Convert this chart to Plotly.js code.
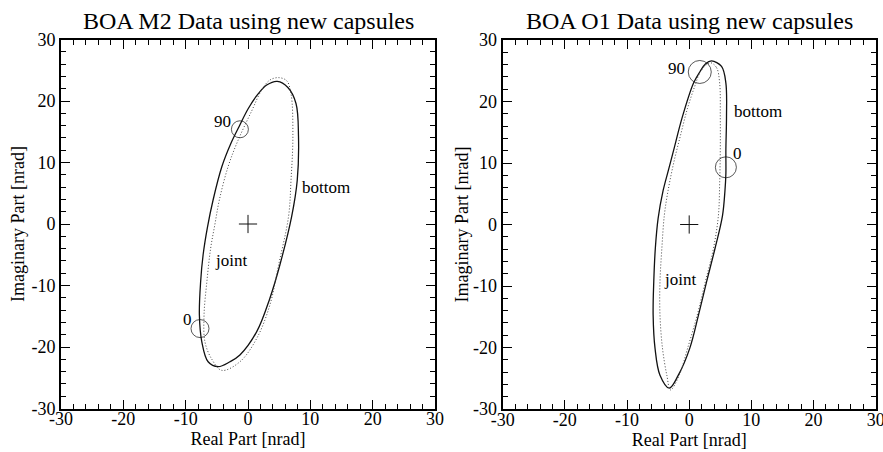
<!DOCTYPE html>
<html>
<head>
<meta charset="utf-8">
<script src="https://cdn.plot.ly/plotly-3.0.1.min.js"></script>
<style>html,body{margin:0;padding:0;background:#fff;}#chart{width:883px;height:452px;}</style>
</head>
<body>
<div id="chart"></div>
<script>
// ---- Data ----
const panelTitles = ["BOA M2 Data using new capsules", "BOA O1 Data using new capsules"];
const xAxisTitle = "Real Part [nrad]";
const yAxisTitle = "Imaginary Part [nrad]";
const tickValues = [-30, -20, -10, 0, 10, 20, 30];
const tickLabels = ["-30", "-20", "-10", "0", "10", "20", "30"];

// BOA M2 – "bottom" (solid) and "joint" (dotted)
const m2BottomRe = [4.7, 6.4, 7.7, 8.1, 7.9, 7.0, 5.1, 3.5, 1.4, -1.3, -2.9, -4.8, -6.4, -7.4, -7.8, -7.6, -7.2, -6.5, -5.6, -4.2, -2.7, -1.4, 0.0, 1.5, 3.0, 4.7];
const m2BottomIm = [23.2, 22.2, 19.6, 14.3, 7.1, 1.2, -6.7, -12.1, -17.5, -21.3, -22.4, -23.2, -22.4, -19.2, -14.8, -9.4, -5.0, -0.5, 3.9, 9.3, 13.2, 15.9, 18.7, 21.0, 22.6, 23.2];
const m2JointRe = [4.9, 6.2, 6.9, 7.2, 6.9, 6.5, 4.9, 3.5, 1.4, -1.3, -4.2, -5.8, -6.9, -7.05, -6.6, -6.0, -5.3, -4.6, -3.2, -1.6, 0.6, 2.2, 3.5, 4.9];
const m2JointIm = [23.8, 23.3, 21.2, 14.2, 7.1, 1.2, -6.7, -13.2, -18.6, -22.4, -23.8, -22.0, -19.2, -14.8, -9.4, -4.0, 0.0, 3.9, 9.3, 13.6, 18.4, 21.8, 23.4, 23.8];
const m2PhaseRe = [-7.7, -1.3];
const m2PhaseIm = [-17.0, 15.4];
const m2PhaseSize = [18, 17];

// BOA O1 – "bottom" (solid) and "joint" (dotted)
const o1BottomRe = [3.6, 5.2, 5.9, 6.0, 5.9, 5.9, 5.75, 5.35, 4.15, 2.8, 1.5, 0.1, -1.75, -3.2, -4.7, -5.5, -5.8, -5.7, -5.45, -5.0, -4.2, -3.3, -2.5, -1.1, 0.7, 1.7, 2.6, 3.6];
const o1BottomIm = [26.6, 25.7, 23.0, 17.5, 12.1, 8.3, 5.5, 1.4, -3.9, -9.3, -14.7, -20.1, -24.5, -26.6, -24.5, -20.1, -14.7, -9.3, -3.9, 1.0, 5.5, 9.0, 12.1, 17.5, 23.0, 24.8, 26.1, 26.6];
const o1JointRe = [3.4, 4.4, 4.9, 5.0, 5.0, 4.9, 4.7, 3.9, 2.6, 1.3, -0.25, -1.6, -3.0, -3.6, -4.3, -4.7, -4.7, -4.4, -4.0, -3.4, -2.5, -1.4, -0.3, 0.9, 1.9, 3.4];
const o1JointIm = [26.3, 25.5, 23.0, 17.5, 12.1, 6.7, 1.5, -3.9, -9.3, -14.7, -20.1, -24.5, -26.9, -24.5, -20.1, -14.7, -9.3, -3.9, 1.5, 5.5, 10.0, 14.5, 18.8, 22.5, 25.0, 26.3];
const o1PhaseRe = [5.9, 1.7];
const o1PhaseIm = [9.3, 24.8];
const o1PhaseSize = [21, 23];

const originRe = [0];
const originIm = [0];

// labels: [text, x, y, anchor]
const m2Labels = [["90", -2.4, 16.6, "right"], ["0", -8.6, -15.5, "right"], ["bottom", 8.4, 6.0, "left"], ["joint", -5.6, -6.0, "left"]];
const o1Labels = [["90", -0.3, 25.4, "right"], ["0", 6.8, 11.6, "left"], ["bottom", 6.9, 18.4, "left"], ["joint", -4.3, -8.9, "left"]];

// ---- Figure ----
const FONT = "Liberation Serif, Times New Roman, serif";
const curve = (x, y, xa, ya, dotted) => ({
  x: x, y: y, xaxis: xa, yaxis: ya, type: 'scatter', mode: 'lines',
  line: dotted ? {color: '#444', width: 1, dash: '1px,2px', shape: 'spline', smoothing: 1}
               : {color: '#111', width: 1.3, shape: 'spline', smoothing: 1},
  hoverinfo: 'skip'
});
const circles = (x, y, s, xa, ya) => ({
  x: x, y: y, xaxis: xa, yaxis: ya, type: 'scatter', mode: 'markers',
  marker: {symbol: 'circle-open', size: s, color: '#111', line: {width: 1, color: '#111'}},
  hoverinfo: 'skip'
});
const plus = (xa, ya) => ({
  x: originRe, y: originIm, xaxis: xa, yaxis: ya, type: 'scatter', mode: 'markers',
  marker: {symbol: 'cross-thin-open', size: 13, color: '#111', line: {width: 1, color: '#111'}},
  hoverinfo: 'skip'
});

const data = [
  curve(m2BottomRe, m2BottomIm, 'x', 'y', false),
  curve(m2JointRe, m2JointIm, 'x', 'y', true),
  circles(m2PhaseRe, m2PhaseIm, m2PhaseSize, 'x', 'y'),
  plus('x', 'y'),
  curve(o1BottomRe, o1BottomIm, 'x2', 'y2', false),
  curve(o1JointRe, o1JointIm, 'x2', 'y2', true),
  circles(o1PhaseRe, o1PhaseIm, o1PhaseSize, 'x2', 'y2'),
  plus('x2', 'y2')
];

const axisBase = (extra) => Object.assign({
  range: [-30, 30], autorange: false, fixedrange: true,
  showline: true, linecolor: '#000', linewidth: 2, mirror: 'ticks',
  ticks: 'inside', ticklen: 9, tickwidth: 1, tickcolor: '#000',
  tickvals: tickValues, ticktext: tickLabels, ticklabeloverflow: 'allow',
  minor: {dtick: 2, ticks: 'inside', ticklen: 5, tickwidth: 1, tickcolor: '#000'},
  showgrid: false, zeroline: false,
  tickfont: {family: FONT, size: 18, color: '#000'}
}, extra);

const W = 883, H = 452;
const annots = [];
panelTitles.forEach((t, i) => {
  annots.push({text: t, xref: 'paper', yref: 'paper', x: i === 0 ? 248/W : 689/W, y: 1 - 21/H,
    xanchor: 'center', yanchor: 'middle', showarrow: false, font: {family: FONT, size: 24, color: '#000'}});
});
m2Labels.forEach(l => annots.push({text: l[0], x: l[1], y: l[2], xref: 'x', yref: 'y', xanchor: l[3], yanchor: 'middle', showarrow: false, font: {family: FONT, size: 17, color: '#000'}}));
o1Labels.forEach(l => annots.push({text: l[0], x: l[1], y: l[2], xref: 'x2', yref: 'y2', xanchor: l[3], yanchor: 'middle', showarrow: false, font: {family: FONT, size: 17, color: '#000'}}));

const titleFont = {family: FONT, size: 18, color: '#000'};
const layout = {
  width: W, height: H,
  margin: {l: 0, r: 0, t: 0, b: 0},
  paper_bgcolor: '#fff', plot_bgcolor: '#fff',
  showlegend: false,
  xaxis: axisBase({domain: [61/W, 435/W], anchor: 'y', ticklabelstandoff: -7, title: {text: xAxisTitle, font: titleFont, standoff: 3}}),
  yaxis: axisBase({domain: [(H-408.5)/H, (H-39.5)/H], anchor: 'x', title: {text: yAxisTitle, font: titleFont, standoff: 2}}),
  xaxis2: axisBase({domain: [502.7/W, 875.7/W], anchor: 'y2', ticklabelstandoff: -7, title: {text: xAxisTitle, font: titleFont, standoff: 3}}),
  yaxis2: axisBase({domain: [(H-409)/H, (H-40)/H], anchor: 'x2', title: {text: yAxisTitle, font: titleFont, standoff: 0}}),
  annotations: annots
};

Plotly.newPlot('chart', data, layout, {staticPlot: true, displayModeBar: false});
</script>
</body>
</html>
